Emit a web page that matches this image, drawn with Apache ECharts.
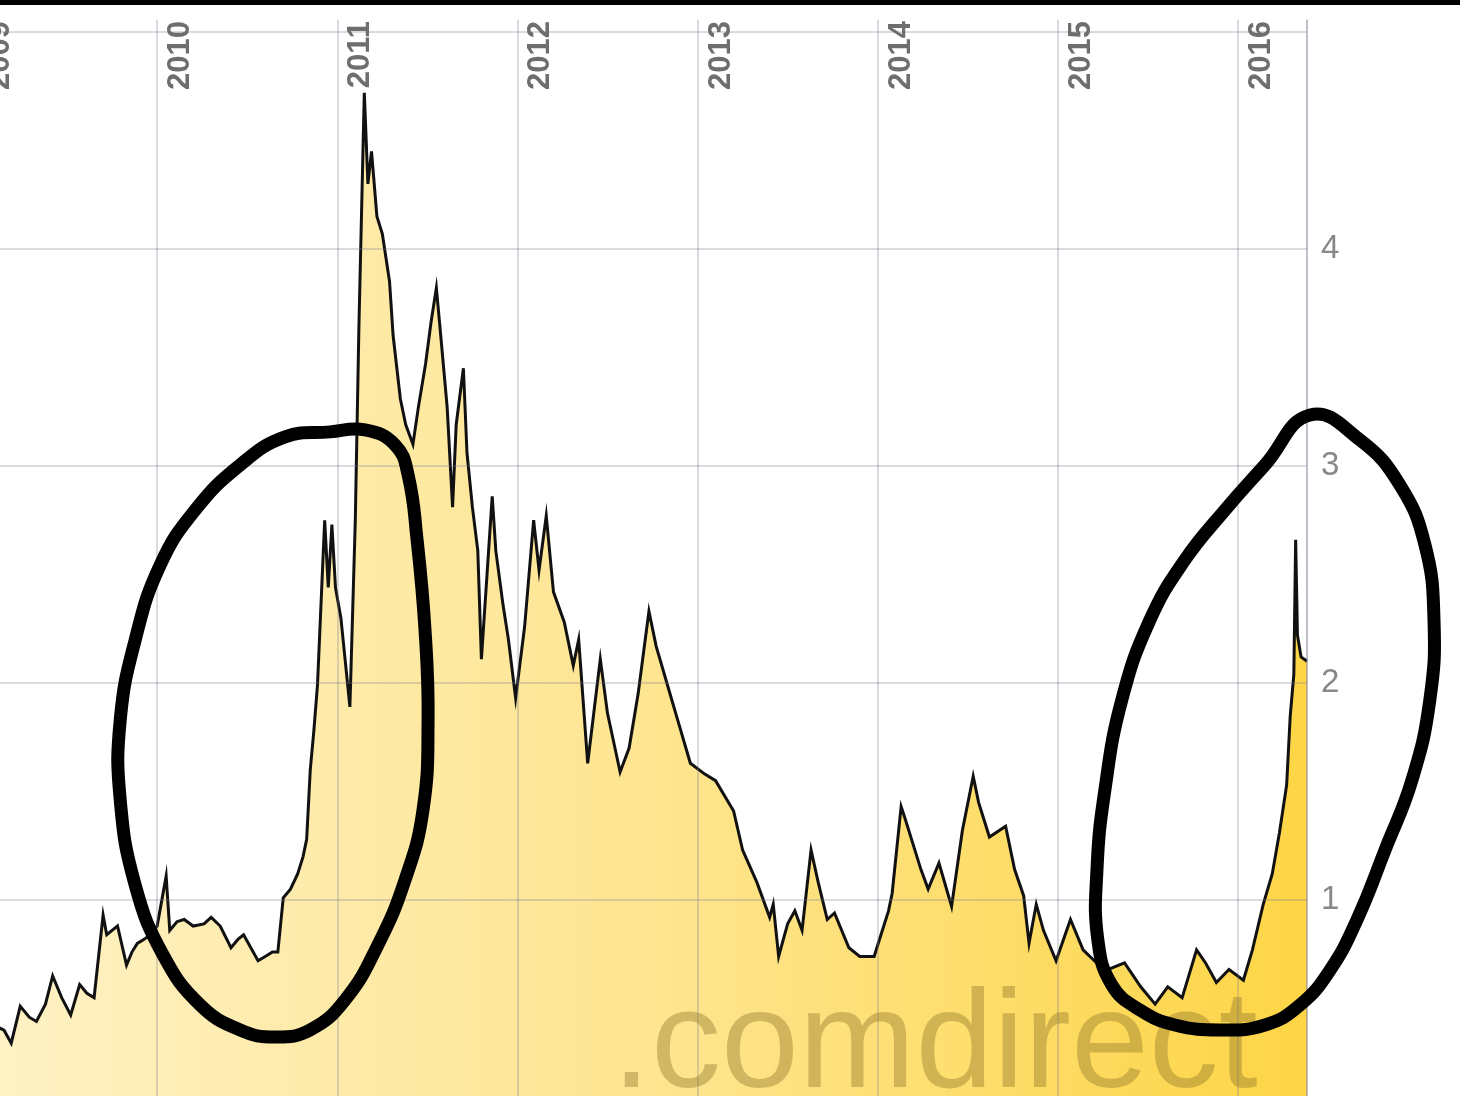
<!DOCTYPE html>
<html>
<head>
<meta charset="utf-8">
<script src="https://cdn.jsdelivr.net/npm/echarts@6/dist/echarts.min.js"></script>
<style>
html,body{margin:0;padding:0;background:#fff;overflow:hidden;}
#chart{width:1460px;height:1096px;}
</style>
</head>
<body>
<div id="chart"></div>
<script>
// time positions in decimal years
const dates = [
 2009.10, 2009.15, 2009.19, 2009.24, 2009.29, 2009.33, 2009.38, 2009.42, 2009.47, 2009.52,
 2009.57, 2009.61, 2009.65, 2009.70, 2009.72, 2009.75, 2009.78, 2009.83, 2009.86, 2009.89,
 2009.93, 2009.96, 2010.00, 2010.05, 2010.07, 2010.11, 2010.15, 2010.20, 2010.26, 2010.30,
 2010.35, 2010.41, 2010.45, 2010.48, 2010.52, 2010.56, 2010.60, 2010.64, 2010.67, 2010.70,
 2010.74, 2010.78, 2010.81, 2010.83, 2010.85, 2010.87, 2010.89, 2010.93, 2010.95, 2010.97,
 2010.99, 2011.02, 2011.07, 2011.10, 2011.12, 2011.15, 2011.17, 2011.19, 2011.22, 2011.25,
 2011.29, 2011.31, 2011.35, 2011.38, 2011.42, 2011.45, 2011.49, 2011.52, 2011.55, 2011.57,
 2011.61, 2011.64, 2011.66, 2011.70, 2011.72, 2011.75, 2011.78, 2011.80, 2011.86, 2011.88,
 2011.92, 2011.95, 2011.99, 2012.04, 2012.09, 2012.12, 2012.16, 2012.20, 2012.26, 2012.31,
 2012.34, 2012.39, 2012.46, 2012.50, 2012.57, 2012.62, 2012.67, 2012.73, 2012.77, 2012.84,
 2012.90, 2012.96, 2013.04, 2013.10, 2013.20, 2013.25, 2013.33, 2013.40, 2013.42, 2013.45,
 2013.50, 2013.54, 2013.58, 2013.63, 2013.67, 2013.72, 2013.76, 2013.84, 2013.90, 2013.98,
 2014.06, 2014.08, 2014.13, 2014.15, 2014.24, 2014.28, 2014.34, 2014.41, 2014.47, 2014.53,
 2014.56, 2014.62, 2014.71, 2014.76, 2014.81, 2014.84, 2014.88, 2014.92, 2014.99, 2015.07,
 2015.14, 2015.24, 2015.28, 2015.37, 2015.46, 2015.54, 2015.61, 2015.69, 2015.77, 2015.82,
 2015.88, 2015.95, 2016.03, 2016.08, 2016.14, 2016.19, 2016.23, 2016.27, 2016.29, 2016.31,
 2016.32, 2016.33, 2016.35, 2016.383
];
const values = [
 0.42, 0.40, 0.34, 0.51, 0.46, 0.44, 0.52, 0.65, 0.55, 0.47,
 0.61, 0.57, 0.55, 0.93, 0.84, 0.86, 0.88, 0.70, 0.76, 0.80,
 0.82, 0.84, 0.88, 1.11, 0.86, 0.90, 0.91, 0.88, 0.89, 0.92,
 0.88, 0.78, 0.82, 0.84, 0.78, 0.72, 0.74, 0.76, 0.76, 1.01,
 1.05, 1.12, 1.20, 1.28, 1.60, 1.78, 1.99, 2.75, 2.44, 2.73,
 2.44, 2.30, 1.89, 2.75, 3.64, 4.72, 4.30, 4.45, 4.15, 4.07,
 3.85, 3.60, 3.31, 3.19, 3.10, 3.27, 3.47, 3.66, 3.82, 3.64,
 3.27, 2.81, 3.19, 3.45, 3.06, 2.81, 2.61, 2.11, 2.86, 2.61,
 2.36, 2.20, 1.93, 2.26, 2.75, 2.52, 2.77, 2.42, 2.28, 2.08,
 2.20, 1.63, 2.11, 1.86, 1.59, 1.70, 1.95, 2.33, 2.17, 1.97,
 1.80, 1.63, 1.58, 1.55, 1.41, 1.23, 1.08, 0.92, 0.98, 0.74,
 0.89, 0.95, 0.86, 1.23, 1.08, 0.91, 0.94, 0.78, 0.74, 0.74,
 0.95, 1.03, 1.43, 1.38, 1.14, 1.05, 1.17, 0.97, 1.32, 1.57,
 1.45, 1.29, 1.34, 1.14, 1.02, 0.80, 0.98, 0.86, 0.72, 0.91,
 0.77, 0.69, 0.68, 0.71, 0.60, 0.52, 0.60, 0.55, 0.77, 0.71,
 0.62, 0.68, 0.63, 0.77, 0.98, 1.12, 1.31, 1.53, 1.85, 2.04,
 2.66, 2.22, 2.12, 2.10
];
const yearTicks = [2009, 2010, 2011, 2012, 2013, 2014, 2015, 2016];
const valueTicks = [0, 1, 2, 3, 4];

// hand-drawn annotation loops, in data coordinates [year, value]
const loopLeft = [
 [2010.710,3.134],[2010.960,3.157],[2011.154,3.166],[2011.321,3.097],[2011.393,2.959],
 [2011.443,2.659],[2011.487,2.244],[2011.504,1.829],[2011.476,1.415],[2011.376,1.092],
 [2011.226,0.793],[2011.043,0.539],[2010.849,0.401],[2010.655,0.369],[2010.461,0.401],
 [2010.239,0.516],[2010.033,0.747],[2009.878,1.069],[2009.795,1.461],[2009.795,1.829],
 [2009.878,2.198],[2010.017,2.544],[2010.211,2.797],[2010.461,3.005]
];
const loopRight = [
 [2016.400,3.235],[2016.677,3.120],[2016.899,2.912],[2017.038,2.636],[2017.088,2.290],
 [2017.065,1.922],[2016.966,1.553],[2016.816,1.230],[2016.660,0.908],[2016.511,0.677],
 [2016.344,0.516],[2016.150,0.424],[2015.900,0.401],[2015.650,0.424],[2015.456,0.493],
 [2015.300,0.608],[2015.222,0.816],[2015.217,1.138],[2015.261,1.507],[2015.355,1.922],
 [2015.511,2.290],[2015.705,2.567],[2015.928,2.797],[2016.150,3.005]
];

const chart = echarts.init(document.getElementById('chart'), null, {renderer: 'canvas'});
const gridColor = 'rgba(120,120,145,0.27)';
const option = {
  animation: false,
  backgroundColor: '#ffffff',
  grid: {left: -23, right: 153, top: 20, bottom: -21, containLabel: false, outerBoundsMode: 'none'},
  xAxis: {
    type: 'value', position: 'top', min: 2009, max: 2016.383, interval: 1, z: 5,
    axisLine: {show: false}, axisTick: {show: false},
    splitLine: {show: true, lineStyle: {color: gridColor, width: 2}},
    axisLabel: {
      inside: true, rotate: 90, margin: 1, verticalAlign: 'top', padding: [8, 0, 0, 0],
      color: '#6e6e6e', fontSize: 31, fontWeight: 'bold', fontFamily: 'Liberation Sans, Arial, sans-serif',
      showMaxLabel: false,
      formatter: v => yearTicks.indexOf(Math.round(v * 1000) / 1000) >= 0 ? String(v) : ''
    }
  },
  yAxis: {
    type: 'value', position: 'right', min: 0, max: 5.055, interval: 1, z: 5,
    axisLine: {show: true, lineStyle: {color: gridColor, width: 2}}, axisTick: {show: false},
    splitLine: {show: true, showMaxLine: false, lineStyle: {color: gridColor, width: 2}},
    axisLabel: {
      margin: 14, color: '#888', fontSize: 33, fontFamily: 'Liberation Sans, Arial, sans-serif',
      showMaxLabel: false,
      formatter: v => valueTicks.indexOf(v) >= 0 ? String(v) : ''
    }
  },
  series: [{
    type: 'line', showSymbol: false, symbol: 'none', sampling: 'none', z: 2,
    data: dates.map((d, i) => [d, values[i]]),
    lineStyle: {color: '#111', width: 3, join: 'miter'},
    areaStyle: {
      opacity: 1,
      color: new echarts.graphic.LinearGradient(0, 0, 1, 0, [
        {offset: 0, color: '#fef1c4'},
        {offset: 0.5, color: '#fee590'},
        {offset: 1, color: '#fdd546'}
      ])
    }
  }]
};
chart.setOption(option);

function toPx(list) {
  return list.map(p => chart.convertToPixel({gridIndex: 0}, p));
}
chart.setOption({
  graphic: [
    {type: 'text', z: 40, x: 612, y: 978,
     style: {text: '.comdirect', font: '140px "Liberation Sans", Arial, sans-serif',
             fill: 'rgba(140,115,40,0.40)', verticalAlign: 'top', align: 'left'}},
    {type: 'polygon', z: 60, shape: {points: toPx(loopLeft), smooth: 0.45},
     style: {fill: 'none', stroke: '#000', lineWidth: 13, lineJoin: 'round'}},
    {type: 'polygon', z: 60, shape: {points: toPx(loopRight), smooth: 0.45},
     style: {fill: 'none', stroke: '#000', lineWidth: 13, lineJoin: 'round'}},
    {type: 'rect', z: 70, shape: {x: 0, y: 0, width: 1460, height: 5}, style: {fill: '#000'}}
  ]
});
</script>
</body>
</html>
